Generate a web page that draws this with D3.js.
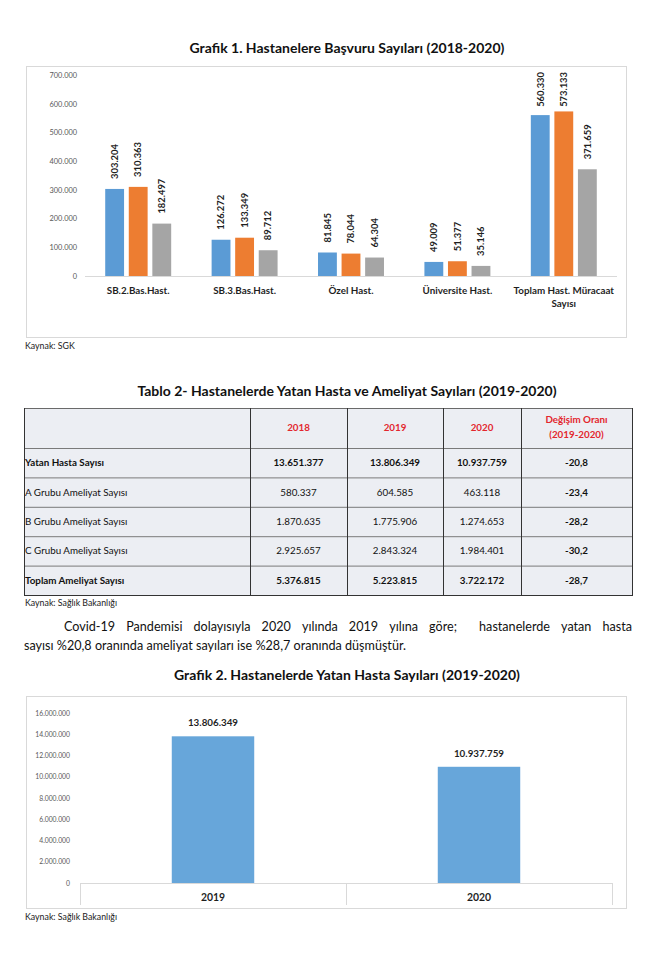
<!DOCTYPE html>
<html><head><meta charset="utf-8">
<script src="https://cdn.jsdelivr.net/npm/d3@7"></script>
<style>
body{margin:0;background:#fff}
svg{display:block}
text{font-family:Lato,'Open Sans',sans-serif}
</style>
</head><body>
<svg id="c" width="668" height="964"></svg>
<script>
// ---------- DATA ----------
const categories1 = ["SB.2.Bas.Hast.", "SB.3.Bas.Hast.", "Özel Hast.", "Üniversite Hast.", "Toplam Hast. Müracaat Sayısı"];
const series1 = ["2018", "2019", "2020"];
const values2018 = [303204, 126272, 81845, 49009, 560330];
const values2019 = [310363, 133349, 78044, 51377, 573133];
const values2020 = [182497, 89712, 64304, 35146, 371659];
const yTicks1 = [0, 100000, 200000, 300000, 400000, 500000, 600000, 700000];

const tableHeader = ["", "2018", "2019", "2020", "Değişim Oranı", "(2019-2020)"];
const tableRowLabels = ["Yatan Hasta Sayısı", "A Grubu Ameliyat Sayısı", "B Grubu Ameliyat Sayısı", "C Grubu Ameliyat Sayısı", "Toplam Ameliyat Sayısı"];
const table2018 = [13651377, 580337, 1870635, 2925657, 5376815];
const table2019 = [13806349, 604585, 1775906, 2843324, 5223815];
const table2020 = [10937759, 463118, 1274653, 1984401, 3722172];
const tableChange = [-20.8, -23.4, -28.2, -30.2, -28.7];
const tableBoldRows = ["Yatan Hasta Sayısı", "Toplam Ameliyat Sayısı"];

const years2 = ["2019", "2020"];
const inpatients = [13806349, 10937759];
const yTicks2 = [0, 2000000, 4000000, 6000000, 8000000, 10000000, 12000000, 14000000, 16000000];

const paragraphLine1 = "Covid-19 Pandemisi dolayısıyla 2020 yılında 2019 yılına göre;  hastanelerde yatan hasta";
const paragraphLine2 = "sayısı %20,8 oranında ameliyat sayıları ise %28,7 oranında düşmüştür.";

// ---------- SETUP ----------
const tr = d3.formatLocale({decimal: ",", thousands: ".", grouping: [3], currency: ["", " TL"], minus: "-"});
const fmtInt = tr.format(",d");
const fmt1 = tr.format(",.1f");
const colors1 = ["#5B9BD5", "#ED7D31", "#A5A5A5"];
const svg = d3.select("#c");
const dark = "#1f1f1f";

function title(txt, y) {
  svg.append("text").attr("x", 347).attr("y", y).attr("text-anchor", "middle")
    .attr("font-weight", 700).attr("font-size", 14).attr("fill", "#111").text(txt);
}
function source(txt, y) {
  svg.append("text").attr("x", 25).attr("y", y).attr("font-size", 8.8).attr("fill", "#222").text(txt);
}

// ---------- CHART 1 ----------
title("Grafik 1. Hastanelere Başvuru Sayıları (2018-2020)", 53);
svg.append("rect").attr("x", 26.5).attr("y", 66.5).attr("width", 600).attr("height", 271)
  .attr("fill", "#fff").attr("stroke", "#d9d9d9");

const x0 = d3.scaleBand().domain(categories1).range([85, 617]).paddingInner(0.38).paddingOuter(0.19);
const x1 = d3.scaleBand().domain(series1).range([0, x0.bandwidth()]).paddingInner(0.2);
const y1 = d3.scaleLinear().domain([0, 700000]).range([276, 75]);

const yAx1 = svg.append("g").attr("transform", "translate(85,0)")
  .call(d3.axisLeft(y1).tickValues(yTicks1).tickFormat(fmtInt).tickSize(0).tickPadding(8));
yAx1.select(".domain").remove();
yAx1.selectAll("text").attr("font-size", 7.4).attr("fill", "#595959").style("font-family", "Lato,sans-serif");

svg.append("line").attr("x1", 85).attr("x2", 617).attr("y1", y1(0) + 0.5).attr("y2", y1(0) + 0.5)
  .attr("stroke", "#d9d9d9");

const seriesVals = [values2018, values2019, values2020];
const groups = svg.append("g").selectAll("g").data(categories1).join("g")
  .attr("transform", d => `translate(${x0(d)},0)`);
const bars = groups.selectAll("g").data((d, i) => series1.map((s, j) => ({s, v: seriesVals[j][i]}))).join("g");
bars.append("rect")
  .attr("x", d => x1(d.s)).attr("width", x1.bandwidth())
  .attr("y", d => y1(d.v)).attr("height", d => y1(0) - y1(d.v))
  .attr("fill", (d, j) => colors1[series1.indexOf(d.s)]);
bars.append("text")
  .attr("font-size", 9.4).attr("font-weight", 700).attr("fill", dark)
  .attr("text-anchor", "start").attr("dy", "0.35em")
  .text(d => fmtInt(d.v))
  .each(function(d) {
    const len = this.getComputedTextLength();
    const yy = Math.max(y1(d.v) - 10, 72 + len);
    d3.select(this).attr("transform", `translate(${x1(d.s) + x1.bandwidth() / 2},${yy}) rotate(-90)`);
  });

// category labels (wrapped)
const catG = svg.append("g");
categories1.forEach(c => {
  const cx = x0(c) + x0.bandwidth() / 2;
  const t = catG.append("text").attr("x", cx).attr("y", 294)
    .attr("text-anchor", "middle").attr("font-size", 9.8).attr("font-weight", 700).attr("fill", dark);
  const words = c.split(" ");
  let line = [];
  let ts = t.append("tspan").attr("x", cx);
  words.forEach(w => {
    line.push(w);
    ts.text(line.join(" "));
    if (ts.node().getComputedTextLength() > x0.step() + 4 && line.length > 1) {
      line.pop(); ts.text(line.join(" "));
      line = [w];
      ts = t.append("tspan").attr("x", cx).attr("dy", 13).text(w);
    }
  });
});
source("Kaynak: SGK", 349);

// ---------- TABLE ----------
title("Tablo 2- Hastanelerde Yatan Hasta ve Ameliyat Sayıları (2019-2020)", 396);
const colEdges = [24, 250, 347, 443, 521, 632];
const headTop = 408, headBottom = 448, tableBottom = 595;
const rowY = d3.scaleBand().domain(tableRowLabels).range([headBottom, tableBottom]);
const tg = svg.append("g");
tg.append("rect").attr("x", colEdges[0]).attr("y", headTop)
  .attr("width", colEdges[5] - colEdges[0]).attr("height", tableBottom - headTop).attr("fill", "#eceef3");
[headBottom, ...tableRowLabels.slice(1).map(r => rowY(r))].forEach(yv => {
  tg.append("line").attr("x1", colEdges[0]).attr("x2", colEdges[5]).attr("y1", yv + 0.5).attr("y2", yv + 0.5)
    .attr("stroke", "#7a7a7a");
});
tg.append("line").attr("x1", colEdges[0]).attr("x2", colEdges[5]).attr("y1", headTop + 0.5).attr("y2", headTop + 0.5).attr("stroke", "#6a6a6a");
tg.append("line").attr("x1", colEdges[0]).attr("x2", colEdges[5]).attr("y1", tableBottom + 0.5).attr("y2", tableBottom + 0.5).attr("stroke", "#333");
colEdges.forEach(xv => {
  tg.append("line").attr("x1", xv + 0.5).attr("x2", xv + 0.5).attr("y1", headTop).attr("y2", tableBottom + 1)
    .attr("stroke", "#333");
});
const colMid = i => (colEdges[i] + colEdges[i + 1]) / 2;
const red = "#e3262d";
const tfs = 9.8;
[1, 2, 3].forEach(i => {
  tg.append("text").attr("x", colMid(i)).attr("y", (headTop + headBottom) / 2).attr("dy", "0.35em")
    .attr("text-anchor", "middle").attr("font-size", tfs).attr("font-weight", 700).attr("fill", red).text(tableHeader[i]);
});
tg.append("text").attr("x", colMid(4)).attr("y", 420).attr("dy", "0.35em").attr("text-anchor", "middle")
  .attr("font-size", tfs).attr("font-weight", 700).attr("fill", red).text(tableHeader[4]);
tg.append("text").attr("x", colMid(4)).attr("y", 435).attr("dy", "0.35em").attr("text-anchor", "middle")
  .attr("font-size", tfs).attr("font-weight", 700).attr("fill", red).text(tableHeader[5]);

tableRowLabels.forEach((r, i) => {
  const cy = rowY(r) + rowY.bandwidth() / 2;
  const bold = tableBoldRows.includes(r) ? 700 : 400;
  tg.append("text").attr("x", 25).attr("y", cy).attr("dy", "0.35em").attr("font-size", tfs)
    .attr("font-weight", bold).attr("fill", "#111").text(r);
  [table2018[i], table2019[i], table2020[i]].forEach((v, k) => {
    tg.append("text").attr("x", colMid(k + 1)).attr("y", cy).attr("dy", "0.35em").attr("text-anchor", "middle")
      .attr("font-size", tfs).attr("font-weight", bold).attr("fill", "#111").text(fmtInt(v));
  });
  tg.append("text").attr("x", colMid(4)).attr("y", cy).attr("dy", "0.35em").attr("text-anchor", "middle")
    .attr("font-size", tfs).attr("font-weight", 700).attr("fill", "#111").text(fmt1(tableChange[i]));
});
source("Kaynak:  Sağlık Bakanlığı", 606);

// ---------- PARAGRAPH ----------
(function() {
  const fs = 12.6;
  const startX = 64, endX = 632;
  const tokens = paragraphLine1.split(" ");
  const tmp = svg.append("text").attr("font-size", fs);
  const widths = tokens.map(w => { tmp.text(w); return w ? tmp.node().getComputedTextLength() : 0; });
  tmp.remove();
  const totalW = d3.sum(widths);
  const gap = (endX - startX - totalW) / (tokens.length - 1);
  let xx = startX;
  const g = svg.append("g");
  tokens.forEach((w, i) => {
    if (w) g.append("text").attr("x", xx).attr("y", 631).attr("font-size", fs).attr("fill", "#111").text(w);
    xx += widths[i] + gap;
  });
  svg.append("text").attr("x", 24).attr("y", 650).attr("font-size", fs).attr("fill", "#111").text(paragraphLine2);
})();

// ---------- CHART 2 ----------
title("Grafik 2. Hastanelerde Yatan Hasta Sayıları (2019-2020)", 680);
svg.append("rect").attr("x", 26.5).attr("y", 696.5).attr("width", 600).attr("height", 212)
  .attr("fill", "#fff").attr("stroke", "#d9d9d9");
const x2 = d3.scaleBand().domain(years2).range([80, 612]).paddingInner(0.69).paddingOuter(0.345);
const y2 = d3.scaleLinear().domain([0, 16000000]).range([883, 713]);
const yAx2 = svg.append("g").attr("transform", "translate(80,0)")
  .call(d3.axisLeft(y2).tickValues(yTicks2).tickFormat(fmtInt).tickSize(0).tickPadding(10));
yAx2.select(".domain").remove();
yAx2.selectAll("text").attr("font-size", 6.8).attr("fill", "#595959").style("font-family", "Lato,sans-serif");

svg.append("g").selectAll("rect").data(years2).join("rect")
  .attr("x", d => x2(d)).attr("width", x2.bandwidth())
  .attr("y", (d, i) => y2(inpatients[i])).attr("height", (d, i) => y2(0) - y2(inpatients[i]))
  .attr("fill", "#67a6da");
svg.append("g").selectAll("text").data(years2).join("text")
  .attr("x", d => x2(d) + x2.bandwidth() / 2).attr("y", (d, i) => y2(inpatients[i]) - 10)
  .attr("text-anchor", "middle").attr("font-size", 9.8).attr("font-weight", 700).attr("fill", dark)
  .text((d, i) => fmtInt(inpatients[i]));
svg.append("line").attr("x1", 80).attr("x2", 612).attr("y1", y2(0) + 0.5).attr("y2", y2(0) + 0.5).attr("stroke", "#d9d9d9");
d3.range(years2.length + 1).forEach(i => {
  const xv = 80 + i * x2.step();
  svg.append("line").attr("x1", xv + 0.5).attr("x2", xv + 0.5).attr("y1", y2(0)).attr("y2", 905).attr("stroke", "#d9d9d9");
});
svg.append("g").selectAll("text").data(years2).join("text")
  .attr("x", d => x2(d) + x2.bandwidth() / 2).attr("y", 901)
  .attr("text-anchor", "middle").attr("font-size", 10.4).attr("font-weight", 700).attr("fill", dark)
  .text(d => d);
source("Kaynak:  Sağlık Bakanlığı", 920);
</script>
</body></html>
